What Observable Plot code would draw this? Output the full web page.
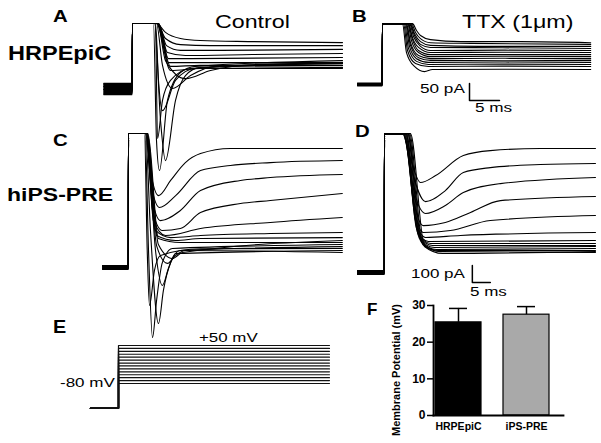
<!DOCTYPE html>
<html><head><meta charset="utf-8">
<script src="https://cdn.jsdelivr.net/npm/d3@7"></script>
<script src="https://cdn.jsdelivr.net/npm/@observablehq/plot@0.6"></script>
<style>
html,body{margin:0;padding:0;background:#fff;}
#fig{position:relative;width:601px;height:443px;overflow:hidden;background:#fff;font-family:"Liberation Sans",Arial,sans-serif;}
</style></head><body><div id="fig"></div>
<script>
// ---------------- DATA ----------------
// Panel A: HRPEpiC control currents. time (ms) from step onset, current (pA)
const A_holdStart = -4.8;
const A_clip = 191;
const A_base = [12, -18, 6, -6, 9, -12, 3, -3, 0, -15, 15, -9, 6, -3];
const A_tails = [
  [[4.0,191],[5.5,165],[8,147],[11.3,141],[19.7,138],[35,135]],
  [[4.17,191],[5.5,147],[8,129],[13,126],[35,126]],
  [[4.33,191],[5.67,126],[8,112],[14.7,112],[35,115]],
  [[4.33,191],[5.83,106],[8.83,97],[20,100],[35,103]],
  [[4.33,191],[6,88],[9.67,88],[35,91]],
  [[4.17,191],[6,76],[9.67,76],[35,76]],
  [[4.17,191],[6.33,65],[11.3,68],[35,68]],
  [[4.0,191],[6.33,53],[11.3,59],[35,62]],
  [[4.17,191],[5.5,82],[8.83,29],[13,53],[21.3,71],[35,74]],
  [[4.0,191],[5,68],[6.67,0],[9.67,38],[13.8,65],[35,68]],
  [[3.83,191],[4.33,24],[5,-65],[7.17,24],[10.5,59],[35,59]],
  [[3.83,191],[4.17,-147],[5,-35],[6.33,24],[9.67,59],[35,74]],
  [[3.67,191],[4.67,-94],[5.5,-212],[7.17,-35],[8.83,38],[11.3,62],[35,76]],
  [[3.5,191],[4,-153],[4.5,-241],[5.83,-35],[8,47],[10.5,65],[35,82]]
];

// Panel B: HRPEpiC + TTX
const B_holdStart = -4.17;
const B_clip = 179;
const B_base = [3, -3, 1, -1, 4, -4, 2, -2, 0, 3, -3, 1, -1, 0];
const B_tails = [
  [[5.0,179],[5.67,159],[6.33,144],[8,132],[13,126],[23,126],[34.7,123]],
  [[4.83,179],[5.5,153],[6.33,135],[8,123],[14.7,121],[34.7,118]],
  [[4.67,179],[5.33,150],[6.33,126],[8,115],[16.3,112],[34.7,112]],
  [[4.58,179],[5.33,144],[6.33,118],[8,109],[20,108],[34.7,106]],
  [[4.5,179],[5.17,141],[6.33,112],[8,100],[20,101],[34.7,100]],
  [[4.33,179],[5,138],[6,109],[8,94],[20,95],[34.7,94]],
  [[4.25,179],[5,132],[6,100],[8,88],[20,88],[34.7,88]],
  [[4.17,179],[4.83,129],[6,94],[8,82],[20,83],[34.7,82]],
  [[4.0,179],[4.67,123],[6,85],[8,76],[20,77],[34.7,76]],
  [[3.92,179],[4.67,115],[6,79],[8,71],[20,70],[34.7,71]],
  [[3.83,179],[4.5,112],[5.67,76],[7.67,65],[20,66],[34.7,65]],
  [[3.67,179],[4.33,106],[5.67,68],[7.67,59],[20,60],[34.7,59]],
  [[3.5,179],[4.17,100],[5.5,62],[7.67,53],[20,54],[34.7,53]],
  [[3.33,179],[4,94],[5.33,53],[7,38],[8.33,44],[20,45],[34.7,44]]
];
const B_scaleBar = {t: 14.5, I: -47, dt: 5, dI: 50};

// Panel C: hiPS-RPE control
const C_holdStart = -7.2;
const C_clip = 788;
const C_base = [10, -10, 5, -5, 12, -12, 0, 8, -8, 3, -3, 10, -6, 6];
const C_tails = [
  [[4.7,788],[6.1,568],[8.33,423],[11.7,512],[15.8,617],[20,670],[28.3,700],[39.4,700],[59.4,700]],
  [[4.86,788],[6.1,512],[8.6,353],[13.1,423],[20,570],[28.3,600],[39.4,617],[59.4,629]],
  [[5,788],[6.4,423],[8.9,276],[14.4,335],[20,453],[31.1,512],[39.4,529],[59.4,547]],
  [[5,788],[6.67,335],[9.4,218],[14.4,229],[20,323],[31.1,376],[39.4,394],[59.4,435]],
  [[5.14,788],[6.9,276],[10.3,188],[20,229],[39.4,265],[59.4,294]],
  [[5.28,788],[7.5,218],[11.7,176],[20,188],[39.4,200],[59.4,206]],
  [[5.28,788],[7.8,188],[13.1,159],[20,171],[59.4,176]],
  [[5.4,788],[8.3,171],[14.4,147],[59.4,147]],
  [[4.6,788],[5.56,100],[6.67,-412],[7.8,-194],[9.4,29],[12.2,112],[59.4,135]],
  [[4.72,788],[6.1,218],[8.33,-329],[9.7,-135],[11.7,29],[14.4,100],[59.4,123]],
  [[4.44,788],[5.2,100],[5.83,-223],[7.2,-18],[8.9,71],[20,110],[59.4,112]],
  [[5,788],[7.5,100],[9.4,-106],[11.1,-6],[13.1,82],[59.4,100]],
  [[5,788],[7.8,129],[10.8,24],[13.1,71],[15.8,100],[59.4,88]],
  [[5.14,788],[8.3,135],[12.2,53],[15,88],[59.4,159]]
];

// Panel D: hiPS-RPE + TTX
const D_holdStart = -7.5;
const D_clip = 817;
const D_base = [10, -10, 5, -5, 12, -12, 0, 8, -8, 3, -3, 10, -6, 6];
const D_tails = [
  [[5,817],[7.2,670],[10,529],[14.2,570],[21.9,688],[29.4,717],[43.3,729],[58.6,729]],
  [[5.14,817],[7.2,629],[11.4,417],[16.9,482],[21.9,588],[29.4,617],[43.3,635],[58.6,641]],
  [[5.28,817],[7.8,512],[11.4,347],[16.9,394],[21.9,470],[32.2,523],[58.6,559]],
  [[5.42,817],[8.06,423],[10.8,276],[16.9,294],[23.9,353],[32.2,423],[58.6,447]],
  [[5.56,817],[8.3,365],[10.8,235],[18.3,247],[29.4,306],[58.6,335]],
  [[5.69,817],[8.6,306],[11.4,206],[21.1,218],[58.6,235]],
  [[5.83,817],[8.9,259],[12.2,182],[58.6,188]],
  [[5.97,817],[9.2,235],[12.8,171],[58.6,171]],
  [[6.1,817],[9.4,218],[13.3,159],[58.6,159]],
  [[6.4,817],[9.7,200],[13.9,147],[58.6,153]],
  [[6.5,817],[10,188],[14.4,135],[58.6,141]],
  [[6.67,817],[10.3,176],[15,129],[58.6,129]],
  [[6.94,817],[10.6,165],[15.6,123],[58.6,118]],
  [[7.2,817],[11.1,153],[16.1,112],[58.6,123]]
];
const D_scaleBar = {t: 24.4, I: -59, dt: 5, dI: 100};

// Panel E: voltage protocol (mV)
const E_stepLevels = [-80, -70, -60, -50, -40, -30, -20, -10, 0, 10, 20, 30, 40, 50];
const E_holding = -165;
const E_holdStart = -7.8;
const E_stepEnd = 58.6;

// Panel F: membrane potential bar chart
const F_groups = ["HRPEpiC", "iPS-PRE"];
const F_means = [25.4, 27.5];
const F_errors = [3.8, 2.2];
const F_colors = ["#000000", "#a9a9a9"];

// ---------------- RENDER ----------------
const fig = document.getElementById("fig");
function place(node, left, top) {
  node.style.position = "absolute";
  node.style.left = left + "px";
  node.style.top = top + "px";
  fig.appendChild(node);
}
const transparent = {background: "none", overflow: "visible"};

function tracePlot(p) {
  const rows = [];
  p.tails.forEach((tail, k) => {
    [[p.holdStart, p.base[k]], [-0.05, p.base[k]], [0, p.clip], ...tail]
      .forEach(([t, I]) => rows.push({trace: k, t, I}));
  });
  const marks = [
    Plot.line(rows, {x: "t", y: "I", z: "trace", stroke: "#000", strokeWidth: 1.1, curve: "monotone-x"})
  ];
  if (p.bar) {
    const b = p.bar;
    marks.push(Plot.line([[b.t, b.I + b.dI], [b.t, b.I], [b.t + b.dt, b.I]],
      {x: d => d[0], y: d => d[1], stroke: "#000", strokeWidth: 1.5}));
  }
  return Plot.plot({
    width: 601, height: 443, margin: 0, style: transparent,
    x: {domain: p.xDomain, range: p.xRange, axis: null},
    y: {domain: p.yDomain, range: p.yRange, axis: null},
    marks
  });
}

place(tracePlot({holdStart: A_holdStart, clip: A_clip, base: A_base, tails: A_tails,
  xDomain: [-5, 35], xRange: [102, 342], yDomain: [-300, 200], yRange: [190, 20]}), 0, 0);
place(tracePlot({holdStart: B_holdStart, clip: B_clip, base: B_base, tails: B_tails, bar: B_scaleBar,
  xDomain: [-5, 35], xRange: [352, 592], yDomain: [-300, 200], yRange: [186, 16]}), 0, 0);
place(tracePlot({holdStart: C_holdStart, clip: C_clip, base: C_base, tails: C_tails,
  xDomain: [-8, 60], xRange: [99.2, 344], yDomain: [-500, 900], yRange: [352, 114]}), 0, 0);
place(tracePlot({holdStart: D_holdStart, clip: D_clip, base: D_base, tails: D_tails, bar: D_scaleBar,
  xDomain: [-8, 60], xRange: [355.2, 600], yDomain: [-500, 900], yRange: [357, 119]}), 0, 0);

// Panel E
const eRows = [];
E_stepLevels.forEach((v, k) => {
  [[E_holdStart, E_holding], [0, E_holding], [0, v], [E_stepEnd, v]]
    .forEach(([t, mV]) => eRows.push({step: k, t, mV}));
});
place(Plot.plot({
  width: 601, height: 443, margin: 0, style: transparent,
  x: {domain: [-8, 60], range: [89.2, 334], axis: null},
  y: {domain: [-80, 50], range: [383, 345], axis: null},
  marks: [Plot.line(eRows, {x: "t", y: "mV", z: "step", stroke: "#111", strokeWidth: 1.2})]
}), 0, 0);

// Panel F
const fData = F_groups.map((g, i) => ({group: g, mean: F_means[i], err: F_errors[i], color: F_colors[i]}));
place(Plot.plot({
  width: 251, height: 153, marginLeft: 83, marginRight: 38, marginTop: 15, marginBottom: 28,
  style: {background: "none", overflow: "visible", fontFamily: "'Liberation Sans', Arial, sans-serif", color: "#000"},
  x: {domain: F_groups, paddingInner: 0.32, paddingOuter: 0.11, align: 0.13, label: null},
  y: {domain: [0, 30], label: null},
  marks: [
    Plot.barY(fData, {x: "group", y: "mean", fill: "color", stroke: "#000", strokeWidth: 1.2}),
    Plot.ruleX(fData, {x: "group", y1: "mean", y2: d => d.mean + d.err, stroke: "#000", strokeWidth: 1.5}),
    Plot.tickY(fData, {x: "group", y: d => d.mean + d.err, insetLeft: 14, insetRight: 14, stroke: "#000", strokeWidth: 1.5}),
    Plot.frame({anchor: "left", stroke: "#000", strokeWidth: 1.8}),
    Plot.frame({anchor: "bottom", stroke: "#000", strokeWidth: 1.8}),
    Plot.axisY({ticks: [0, 10, 20, 30], tickSize: 6, tickPadding: 2, fontSize: 12, fontWeight: "bold", label: null, strokeWidth: 1.5}),
    Plot.axisX({tickSize: 0, tickPadding: 7, fontSize: 10.5, fontWeight: "bold", label: null})
  ]
}), 350, 290);

// Text labels (layout)
const labels = [
  {text: "A", x: 53, y: 22, size: 17, bold: true, sx: 1.2},
  {text: "HRPEpiC", x: 8, y: 60, size: 21, bold: true, sx: 1.12},
  {text: "Control", x: 215, y: 28, size: 18, bold: false, sx: 1.29},
  {text: "B", x: 352, y: 22, size: 17, bold: true, sx: 1.2},
  {text: "TTX (1μm)", x: 462, y: 28, size: 18, bold: false, sx: 1.29},
  {text: "50 pA", x: 420, y: 93, size: 13, bold: false, sx: 1.32},
  {text: "5 ms", x: 475, y: 112, size: 13, bold: false, sx: 1.32},
  {text: "C", x: 53, y: 146, size: 17, bold: true, sx: 1.2},
  {text: "hiPS-PRE", x: 7, y: 201, size: 18, bold: true, sx: 1.28},
  {text: "D", x: 355, y: 137, size: 17, bold: true, sx: 1.2},
  {text: "100 pA", x: 411, y: 278, size: 13, bold: false, sx: 1.31},
  {text: "5 ms", x: 470, y: 296, size: 13, bold: false, sx: 1.31},
  {text: "E", x: 53, y: 333, size: 18, bold: true, sx: 1.1},
  {text: "+50 mV", x: 199, y: 342, size: 13, bold: false, sx: 1.3},
  {text: "-80 mV", x: 60, y: 387, size: 13, bold: false, sx: 1.31},
  {text: "F", x: 367, y: 315, size: 17, bold: true, sx: 1.0}
];
const overlay = d3.create("svg").attr("width", 601).attr("height", 443)
  .style("font-family", "'Liberation Sans', Arial, sans-serif");
overlay.selectAll("text.lbl").data(labels).join("text")
  .attr("class", "lbl")
  .attr("transform", d => `translate(${d.x},${d.y}) scale(${d.sx},1)`)
  .attr("font-size", d => d.size)
  .attr("font-weight", d => d.bold ? "bold" : "normal")
  .attr("fill", "#000")
  .text(d => d.text);
overlay.append("text")
  .attr("transform", "translate(400,370) rotate(-90)")
  .attr("text-anchor", "middle")
  .attr("font-size", 11)
  .attr("font-weight", "bold")
  .text("Membrane Potential (mV)");
place(overlay.node(), 0, 0);
</script></body></html>
